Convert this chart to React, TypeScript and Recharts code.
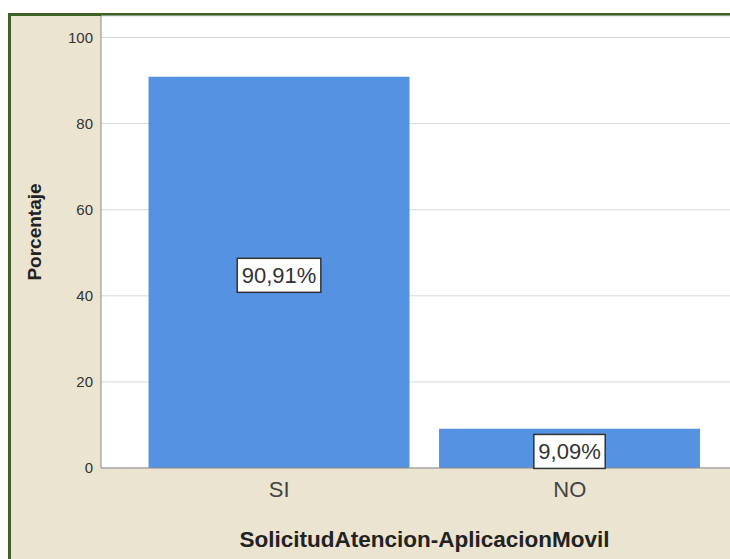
import React from 'react';
import { BarChart, Bar, XAxis, YAxis, CartesianGrid, LabelList } from 'recharts';

const categories = ['SI', 'NO'];
const percentages = [90.91, 9.09];
const yTicks = [0, 20, 40, 60, 80, 100];
const xTitle = 'SolicitudAtencion-AplicacionMovil';
const yTitle = 'Porcentaje';

const data = categories.map((c, i) => ({ category: c, value: percentages[i] }));

const FONT = '"Liberation Sans", Arial, Helvetica, sans-serif';

function formatPct(v: number) {
  return v.toFixed(2).replace('.', ',') + '%';
}

function ValueBox(props: any) {
  const { x, y, width, height, value } = props;
  const text = formatPct(Number(value));
  const fs = 22;
  let w = 0;
  for (const ch of text) w += ch === ',' ? 0.278 : ch === '%' ? 0.889 : 0.556;
  const bw = w * fs + 9;
  const bh = 34;
  const cx = Number(x) + Number(width) / 2;
  const cy = Number(y) + Number(height) / 2 + 3;
  return (
    <g>
      <rect x={cx - bw / 2} y={cy - bh / 2} width={bw} height={bh} fill="#fff" stroke="#333" strokeWidth={1.5} />
      <text x={cx} y={cy + 8} textAnchor="middle" fontSize={fs} fontFamily={FONT} fill="#333">
        {text}
      </text>
    </g>
  );
}

function YTitle(props: any) {
  const { viewBox } = props;
  const cx = viewBox.x + 34;
  const cy = viewBox.y + viewBox.height / 2 - 10;
  return (
    <text
      x={cx}
      y={cy}
      transform={`rotate(-90, ${cx}, ${cy})`}
      textAnchor="middle"
      dominantBaseline="central"
      fontSize={19}
      fontWeight="bold"
      fontFamily={FONT}
      fill="#222"
    >
      {yTitle}
    </text>
  );
}

function XTitle(props: any) {
  const { viewBox } = props;
  const cx = viewBox.x + viewBox.width / 2;
  const by = viewBox.y + viewBox.height - 12;
  return (
    <text x={cx} y={by} textAnchor="middle" fontSize={22.5} fontWeight="bold" fontFamily={FONT} fill="#222">
      {xTitle}
    </text>
  );
}

export default function App() {
  return (
    <div style={{ position: 'absolute', left: 0, top: 0, width: 730, height: 559, overflow: 'hidden', background: '#fff' }}>
      <div
        style={{
          position: 'absolute',
          left: 8,
          top: 13,
          width: 800,
          height: 600,
          border: '3px solid #3E6025',
          background: '#EBE4D0',
          boxSizing: 'border-box',
        }}
      />
      <div style={{ position: 'absolute', left: 0, top: 0 }}>
        <BarChart
          width={748}
          height={559}
          data={data}
          margin={{ top: 16, right: 0, bottom: 0, left: 0 }}
          barCategoryGap="5%"
        >
          <CartesianGrid vertical={false} stroke="#D9D9D9" fill="#fff" />
          <XAxis
            dataKey="category"
            height={91}
            interval={0}
            tickLine={false}
            tickMargin={7}
            axisLine={{ stroke: '#8C8C8C' }}
            tick={{ fontSize: 22, fill: '#444', fontFamily: FONT }}
            padding={{ left: 33, right: 33 }}
            label={<XTitle />}
          />
          <YAxis
            type="number"
            width={101}
            domain={[0, 105]}
            ticks={yTicks}
            tickLine={false}
            axisLine={{ stroke: '#8C8C8C' }}
            tick={{ fontSize: 15, fill: '#333', fontFamily: FONT }}
            label={<YTitle />}
          />
          <Bar dataKey="value" fill="#5592E2" isAnimationActive={false}>
            <LabelList dataKey="value" content={<ValueBox />} />
          </Bar>
        </BarChart>
      </div>
    </div>
  );
}
